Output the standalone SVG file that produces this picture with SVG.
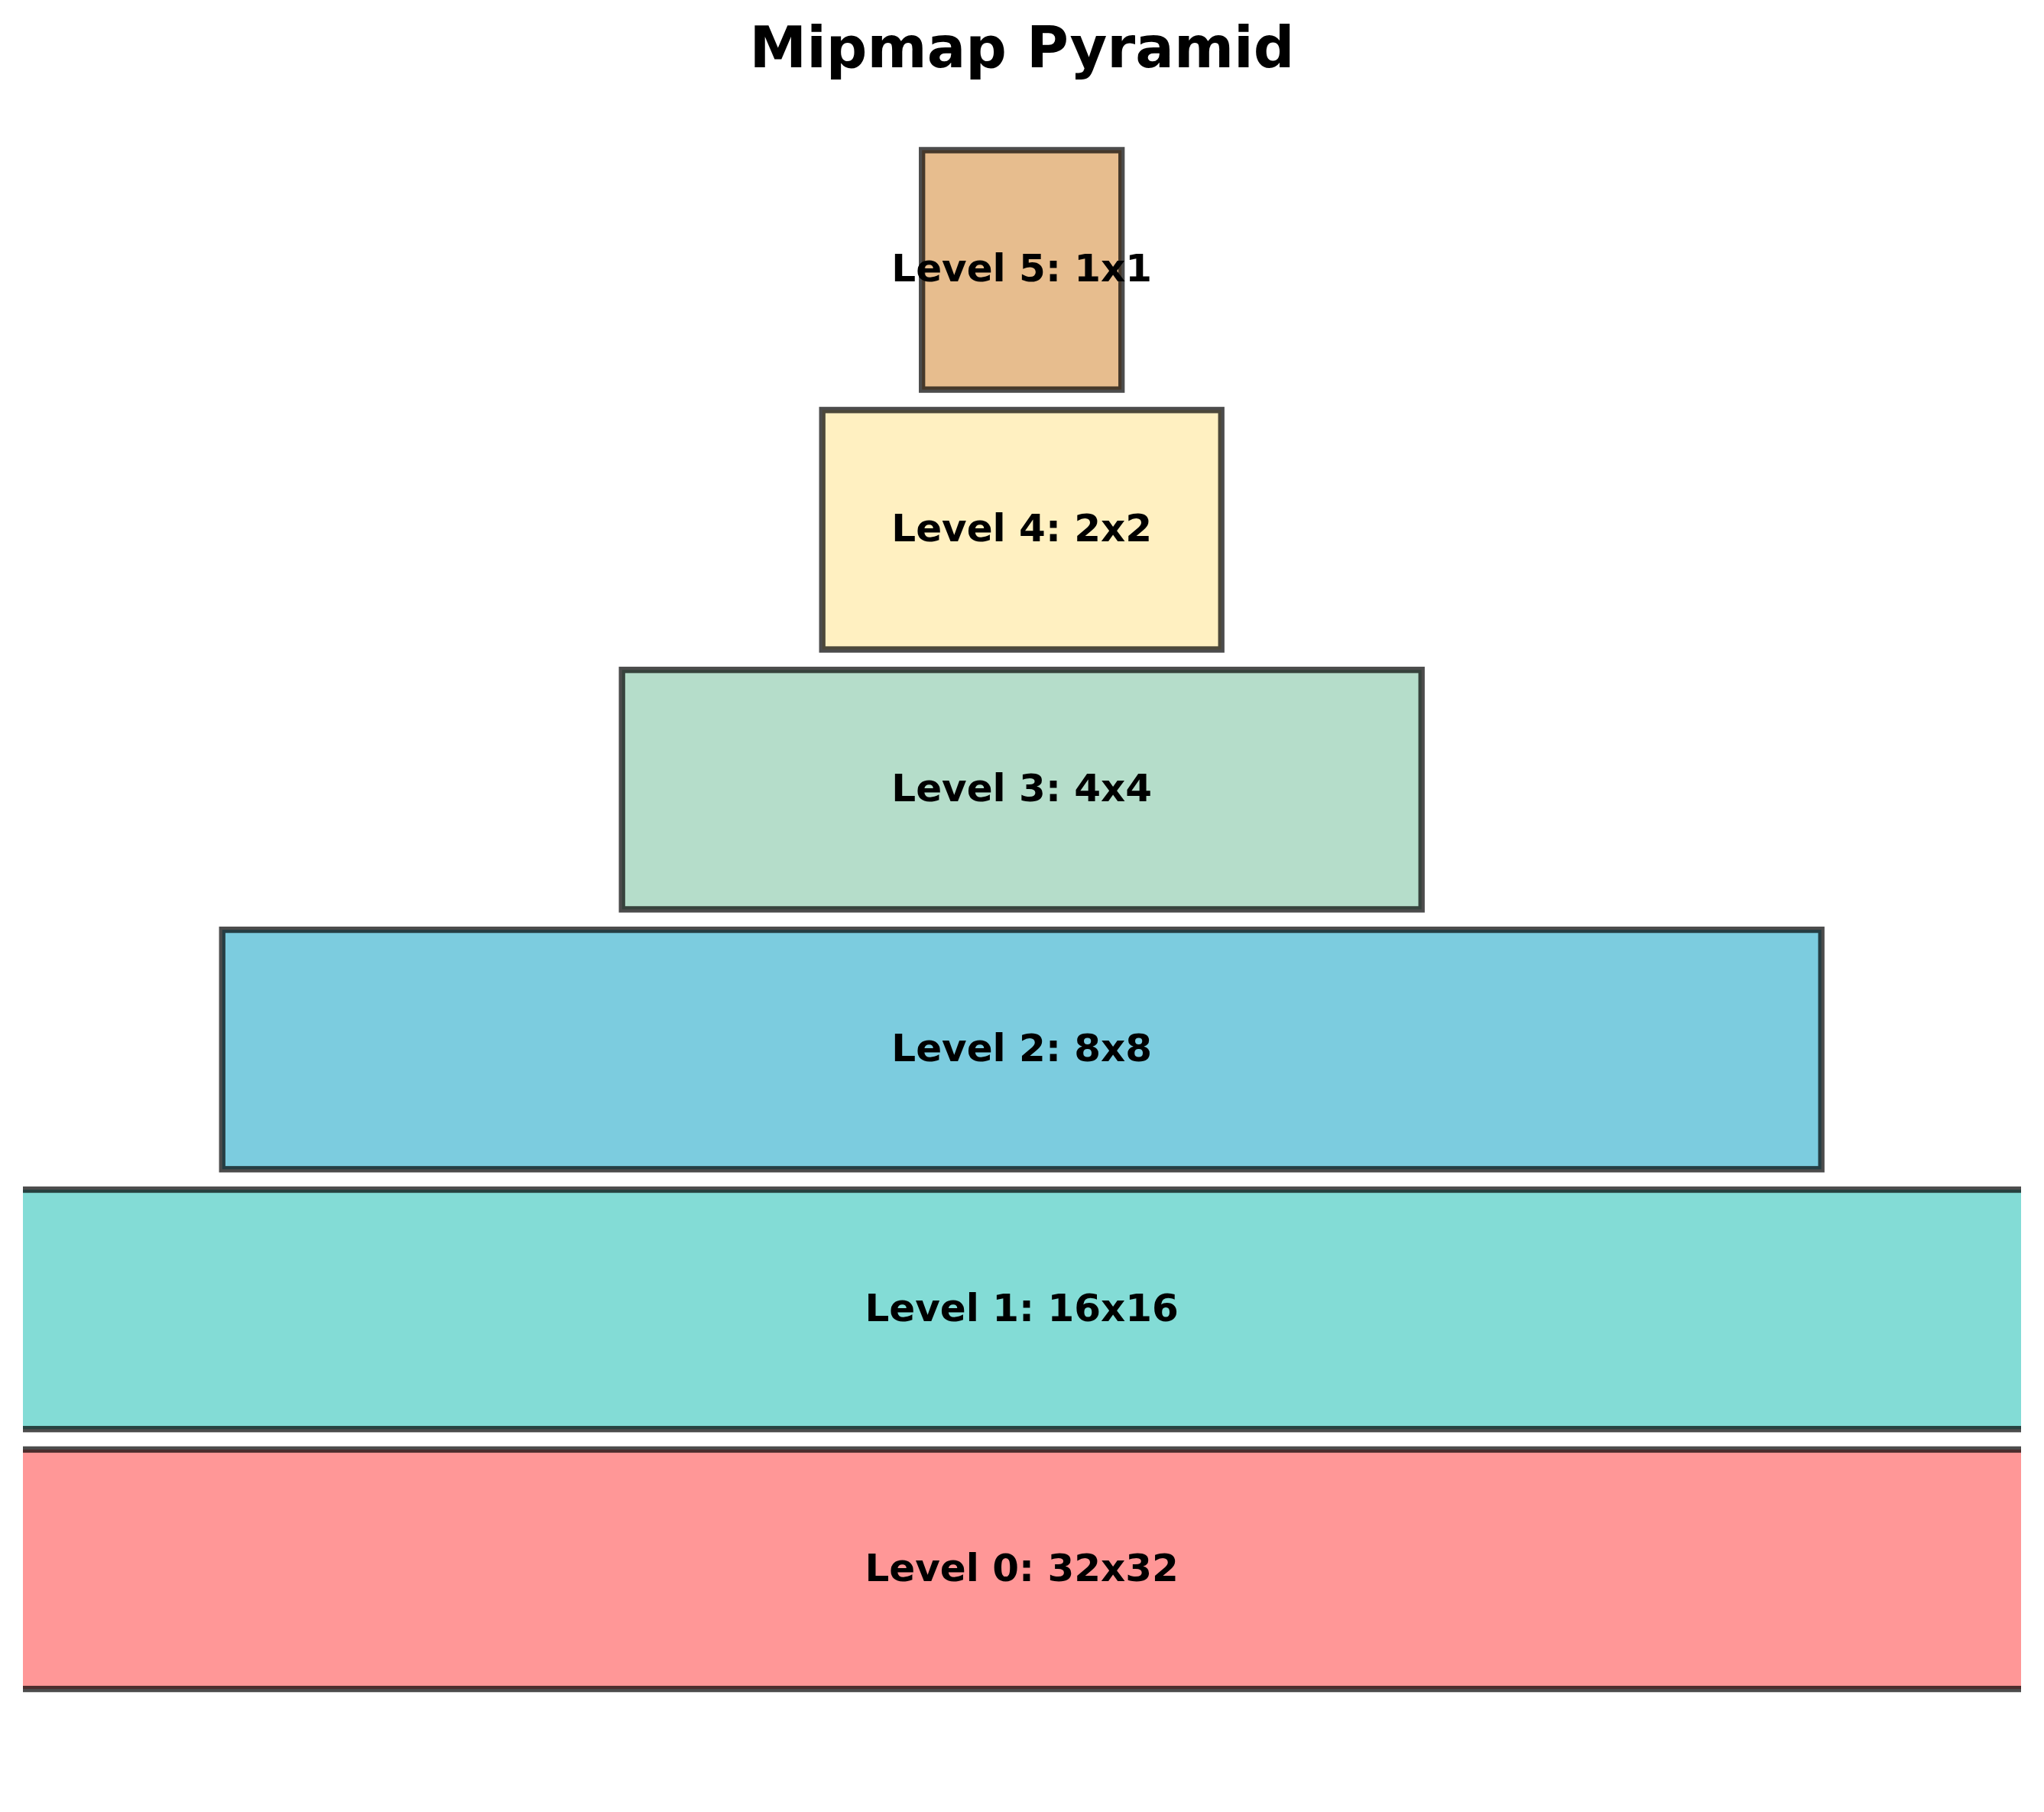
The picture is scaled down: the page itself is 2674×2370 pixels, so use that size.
<svg xmlns="http://www.w3.org/2000/svg" width="2674" height="2370" viewBox="0 0 2674 2370">
  <style>
    .lvl { stroke: #000000; stroke-opacity: 0.7; stroke-width: 8.33; fill-opacity: 0.7; }
    .lbl { font-family: "DejaVu Sans", "Liberation Sans", sans-serif; font-weight: bold; font-size: 50px; fill: #000000; text-anchor: middle; }
    .title { font-family: "DejaVu Sans", "Liberation Sans", sans-serif; font-weight: bold; font-size: 75px; fill: #000000; text-anchor: middle; }
  </style>
  <defs>
    <clipPath id="axes">
      <rect x="30" y="0" width="2614" height="2370"/>
    </clipPath>
  </defs>
  <rect x="0" y="0" width="2674" height="2370" fill="#ffffff"/>
  <text class="title" x="1337" y="87.5">Mipmap Pyramid</text>
  <g clip-path="url(#axes)">
    <g id="level0">
      <rect class="lvl" x="-2847.3" y="1895.9" width="8368" height="313.2" fill="#FF6B6B"/>
      <text class="lbl" x="1336.7" y="2067.5">Level 0: 32x32</text>
    </g>
    <g id="level1">
      <rect class="lvl" x="-755.3" y="1556" width="4184" height="313.2" fill="#4ECDC4"/>
      <text class="lbl" x="1336.7" y="1727.6">Level 1: 16x16</text>
    </g>
    <g id="level2">
      <rect class="lvl" x="290.7" y="1216.1" width="2092" height="313.2" fill="#45B7D1"/>
      <text class="lbl" x="1336.7" y="1387.7">Level 2: 8x8</text>
    </g>
    <g id="level3">
      <rect class="lvl" x="813.7" y="876.2" width="1046" height="313.2" fill="#96CEB4"/>
      <text class="lbl" x="1336.7" y="1047.8">Level 3: 4x4</text>
    </g>
    <g id="level4">
      <rect class="lvl" x="1075.7" y="536.3" width="522" height="313.2" fill="#FFEAA7"/>
      <text class="lbl" x="1336.7" y="707.9">Level 4: 2x2</text>
    </g>
    <g id="level5">
      <rect class="lvl" x="1206.2" y="196.4" width="261" height="313.2" fill="#DDA15E"/>
      <text class="lbl" x="1336.7" y="368">Level 5: 1x1</text>
    </g>
  </g>
  <g id="connectors"/>
</svg>
